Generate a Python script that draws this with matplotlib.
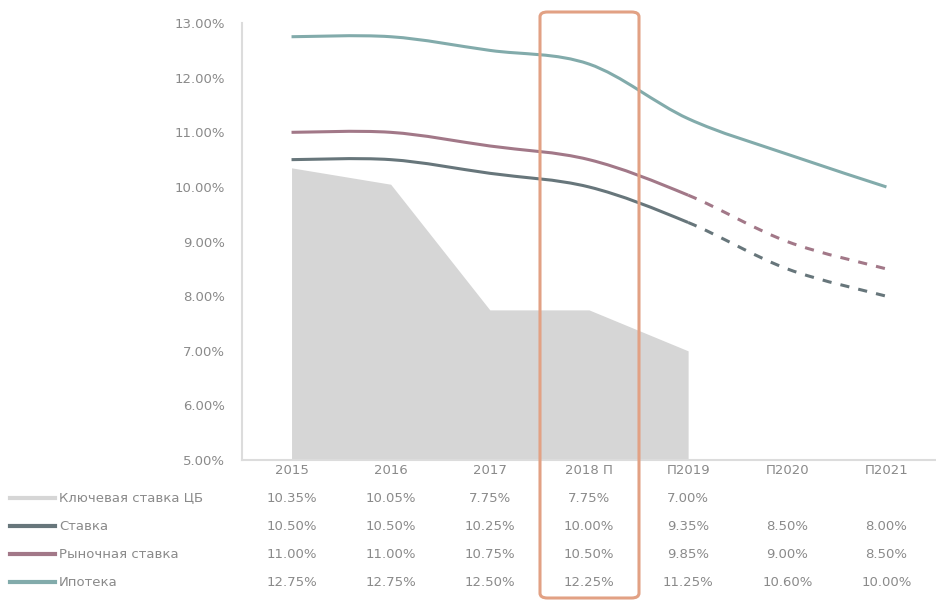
import matplotlib
matplotlib.use("Agg")
import matplotlib.pyplot as plt
from matplotlib.path import Path
from matplotlib.patches import PathPatch, FancyBboxPatch
from matplotlib.lines import Line2D
from matplotlib.transforms import blended_transform_factory

# годы и ставки (%)
years = ["2015", "2016", "2017", "2018 П", "П2019", "П2020", "П2021"]
key_rate = [10.35, 10.05, 7.75, 7.75, 7.00]
stavka = [10.50, 10.50, 10.25, 10.00, 9.35, 8.50, 8.00]
market = [11.00, 11.00, 10.75, 10.50, 9.85, 9.00, 8.50]
ipoteka = [12.75, 12.75, 12.50, 12.25, 11.25, 10.60, 10.00]

names = ["Ключевая ставка ЦБ", "Ставка", "Рыночная ставка", "Ипотека"]
colors = ["#d6d6d6", "#67767b", "#a27888", "#82abab"]
text_color = "#8a8a8a"


def smooth_path(ys, start, stop):
    # сглаженная кривая (как в Excel) между точками start..stop
    n = len(ys)
    pts = [(i, y) for i, y in enumerate(ys)]
    verts = [pts[start]]
    codes = [Path.MOVETO]
    for i in range(start, stop):
        p0 = pts[max(i - 1, 0)]
        p1 = pts[i]
        p2 = pts[i + 1]
        p3 = pts[min(i + 2, n - 1)]
        c1 = (p1[0] + (p2[0] - p0[0]) / 6, p1[1] + (p2[1] - p0[1]) / 6)
        c2 = (p2[0] - (p3[0] - p1[0]) / 6, p2[1] - (p3[1] - p1[1]) / 6)
        verts += [c1, c2, p2]
        codes += [Path.CURVE4] * 3
    return Path(verts, codes)


fig = plt.figure(figsize=(9.36, 6.07), dpi=100)
ax = fig.add_axes([0.2585, 0.242, 0.7415, 0.720])

x = list(range(len(years)))
ax.fill_between(x[:len(key_rate)], key_rate, 5, color=colors[0], lw=0)

ax.add_patch(PathPatch(smooth_path(stavka, 0, 4), fill=False, ec=colors[1], lw=2.2))
ax.add_patch(PathPatch(smooth_path(stavka, 4, 6), fill=False, ec=colors[1], lw=2.2,
                       ls=(0, (3, 3))))
ax.add_patch(PathPatch(smooth_path(market, 0, 4), fill=False, ec=colors[2], lw=2.2))
ax.add_patch(PathPatch(smooth_path(market, 4, 6), fill=False, ec=colors[2], lw=2.2,
                       ls=(0, (3, 3))))
ax.add_patch(PathPatch(smooth_path(ipoteka, 0, 6), fill=False, ec=colors[3], lw=2.2))

ax.set_xlim(-0.5, 6.5)
ax.set_ylim(5, 13)
ax.set_yticks(range(5, 14))
ax.set_yticklabels([f"{v:.2f}%" for v in range(5, 14)])
ax.set_xticks([])
ax.tick_params(axis="y", length=0, pad=12, labelsize=9.5, labelcolor=text_color)
for s in ["top", "right"]:
    ax.spines[s].set_visible(False)
ax.spines["left"].set_color("#dcdcdc")
ax.spines["bottom"].set_color("#dcdcdc")
ax.spines["left"].set_linewidth(1.5)
ax.spines["bottom"].set_linewidth(1.5)

# таблица данных под графиком
tr = blended_transform_factory(ax.transData, fig.transFigure)
H = 607.0
for i, y in enumerate(years):
    ax.text(i, 1 - 470 / H, y, transform=tr, ha="center", va="center",
            fontsize=9.5, color=text_color)

rows = [key_rate, stavka, market, ipoteka]
row_y = [498, 526, 554, 582]
for r, (vals, ypx) in enumerate(zip(rows, row_y)):
    yf = 1 - ypx / H
    for i, v in enumerate(vals):
        ax.text(i, yf, f"{v:.2f}%", transform=tr, ha="center", va="center",
                fontsize=9.5, color=text_color)
    fig.add_artist(Line2D([10 / 936, 55 / 936], [yf, yf], color=colors[r], lw=3))
    fig.text(59 / 936, yf, names[r], ha="left", va="center", fontsize=9.5,
             color=text_color)

# рамка вокруг 2018 года
box = FancyBboxPatch((540 / 936, 1 - 598 / H), 99 / 936, 586 / H,
                     boxstyle="round,pad=0,rounding_size=0.008",
                     transform=fig.transFigure, fill=False, ec="#e2a184", lw=2.2)
fig.add_artist(box)

fig.savefig("out.png", dpi=100)
